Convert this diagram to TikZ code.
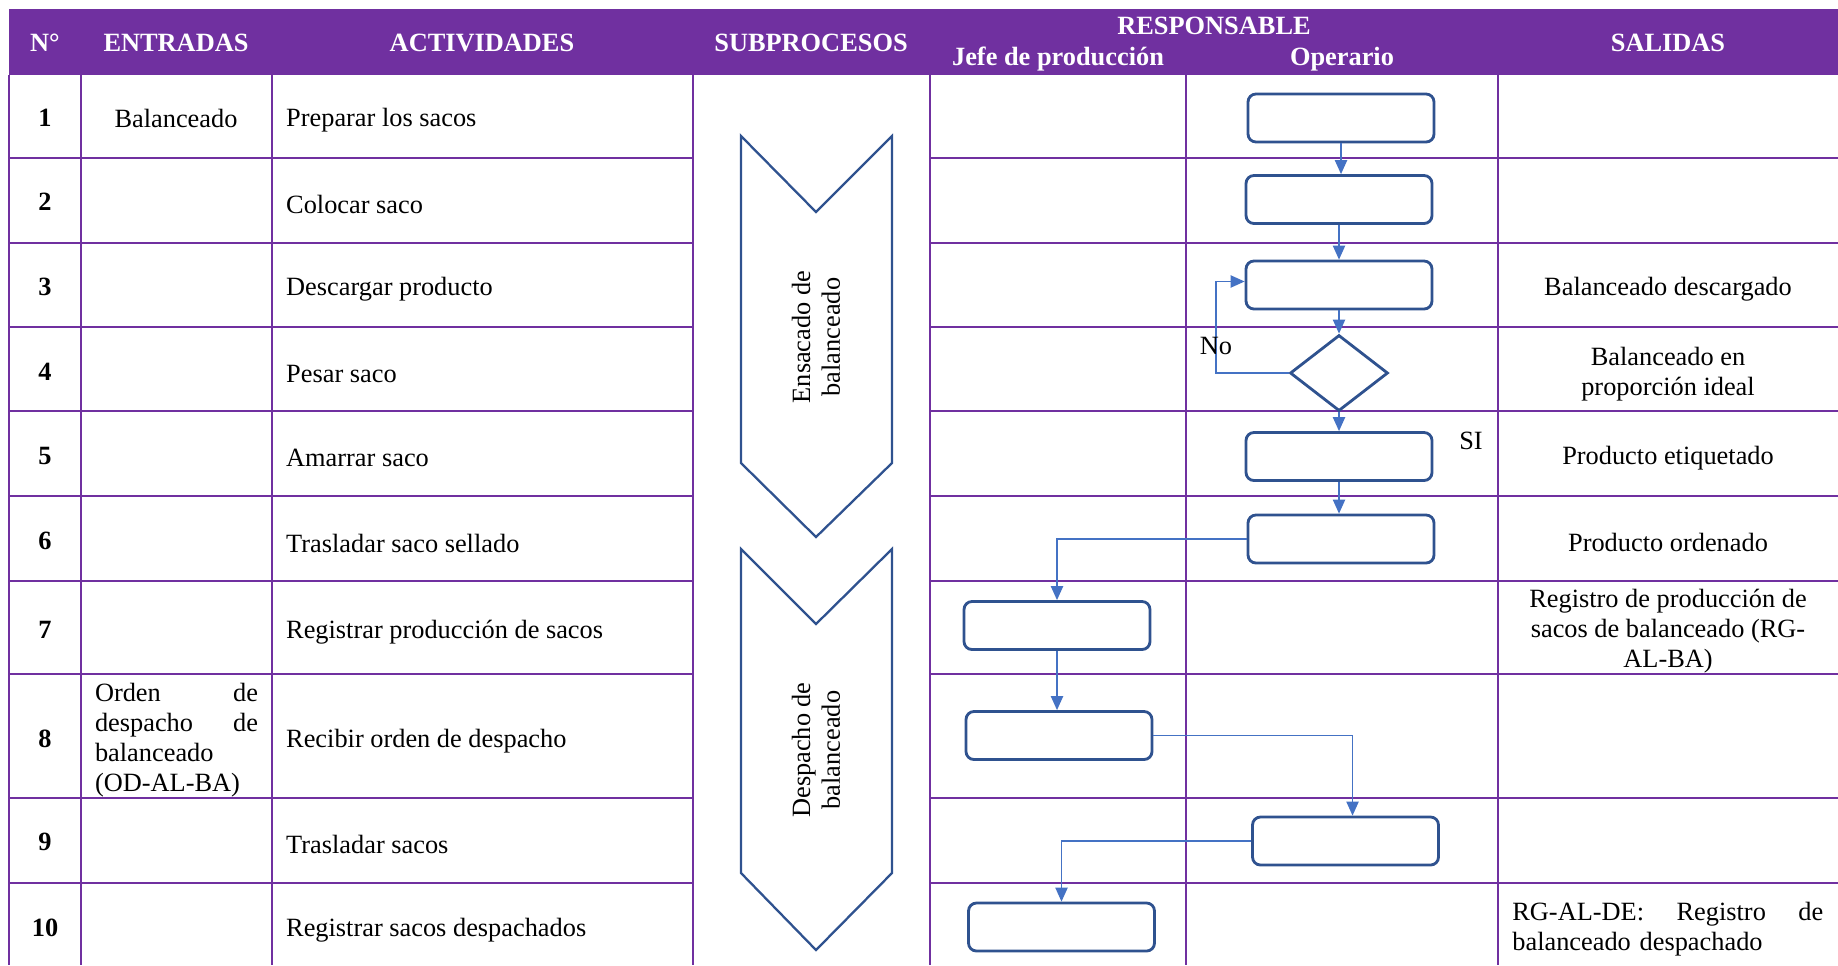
\documentclass[tikz,border=0pt]{standalone}
\usepackage{fontspec}
\setmainfont{Liberation Serif}
\usetikzlibrary{arrows.meta,shapes.geometric}

\definecolor{tblpurple}{HTML}{7030A0}
\definecolor{boxblue}{HTML}{2F528F}
\definecolor{flowblue}{HTML}{4472C4}

% stretch one line of text to a given width
\newcommand{\spreadline}[2]{\makebox[#1][s]{#2}}

\begin{document}
\begin{tikzpicture}[x=0.02cm, y=-0.02cm,
  font=\fontsize{15}{17}\selectfont,
  grid/.style={tblpurple, line width=1.4pt},
  head/.style={text=white, font=\fontsize{15}{17}\selectfont\bfseries},
  num/.style={font=\fontsize{15}{17}\selectfont\bfseries},
  actbox/.style={draw=boxblue, line width=1.6pt, rounded corners=4.5pt,
    minimum width=3.72cm, minimum height=0.96cm},
  decision/.style={draw=boxblue, line width=1.6pt, diamond, inner sep=0pt,
    minimum width=1.96cm, minimum height=1.52cm},
  flow/.style={flowblue, line width=0.8pt, -{Triangle[length=8pt,width=7pt]}},
  chevron/.style={draw=boxblue, line width=1.3pt, line join=miter}]

\useasboundingbox (0,0) rectangle (1838,965);

% Header
\fill[tblpurple] (9,9) rectangle (1838,75);
\node[head] (hnum) at (45,43) {N°};
\node[head] (hent) at (176,43) {ENTRADAS};
\node[head] (hact) at (482,43) {ACTIVIDADES};
\node[head] (hsub) at (811,43) {SUBPROCESOS};
\node[head] (hresp) at (1214,26) {RESPONSABLE};
\node[head] (hjefe) at (1058,59) {Jefe de producción};
\node[head] (hoper) at (1342,59) {Operario};
\node[head] (hsal) at (1668,43) {SALIDAS};

% Table lines
\foreach \y in {158,243,327,411,496,581,674,798,883} {
  \draw[grid] (9,\y) -- (693,\y);
  \draw[grid] (930,\y) -- (1838,\y);
}
\foreach \x in {9,81,272,693,930,1186,1498}
  \draw[grid] (\x,75) -- (\x,965);

% Numbers and activities
\foreach \n/\y/\act in {1/118/Preparar los sacos, 2/202/Colocar saco,
    3/287/Descargar producto, 4/372/Pesar saco, 5/456/Amarrar saco,
    6/541/Trasladar saco sellado, 7/630/Registrar producción de sacos,
    8/739/Recibir orden de despacho, 9/842/Trasladar sacos,
    10/928/Registrar sacos despachados} {
  \node[num] (n\n) at (45,\y) {\n};
  \node[anchor=west] (act\n) at (280,\y+2) {\act};
}

% Inputs
\node (in1) at (176,118) {Balanceado};
\node[text width=3.26cm, align=left, inner sep=0pt] (in8) at (176.5,740)
  {\spreadline{3.26cm}{Orden\hfill de}\\ \spreadline{3.26cm}{despacho\hfill de}\\ balanceado\\ (OD-AL-BA)};

% Outputs
\node (out3) at (1668,289) {Balanceado descargado};
\node[align=center] (out4) at (1668,374) {Balanceado en\\ proporción ideal};
\node (out5) at (1668,458) {Producto etiquetado};
\node (out6) at (1668,542) {Producto ordenado};
\node[align=center] (out7) at (1668,631) {Registro de producción de\\ sacos de balanceado (RG-\\ AL-BA)};
\node[anchor=west, text width=6.22cm, align=left, inner sep=0pt] (out10) at (1512,929)
  {\spreadline{6.22cm}{RG-AL-DE:\hfill Registro\hfill de}\\ balanceado despachado};

% Subprocesses
\draw[chevron] (741,136) -- (816,212) -- (892,136) -- (892,463) -- (816,537) -- (741,463) -- cycle;
\draw[chevron] (741,549) -- (816,624) -- (892,549) -- (892,873) -- (816,950) -- (741,873) -- cycle;
\node[rotate=90, align=center] (sub1) at (816,337) {Ensacado de\\ balanceado};
\node[rotate=90, align=center] (sub2) at (816,750) {Despacho de\\ balanceado};

% Flow boxes
\node[actbox] (b1) at (1341,118) {};
\node[actbox] (b2) at (1339,199.5) {};
\node[actbox] (b3) at (1339,285) {};
\node[decision] (d4) at (1339,373) {};
\node[actbox] (b5) at (1339,456.5) {};
\node[actbox] (b6) at (1341,539) {};
\node[actbox] (b7) at (1057,625.5) {};
\node[actbox] (b8) at (1059,735.5) {};
\node[actbox] (b9) at (1345.5,841) {};
\node[actbox] (b10) at (1061.5,927) {};

% Connectors
\coordinate (loop) at (1216,373);
\draw[flow] (b1.south) -- (b1.south |- b2.north);
\draw[flow] (b2.south) -- (b2.south |- b3.north);
\draw[flow] (b3.south) -- (d4.north);
\draw[flow] (d4.west) -- (loop) |- ([yshift=2pt]b3.west);
\draw[flow] (d4.south) -- (d4.south |- b5.north);
\draw[flow] (b5.south) -- (b5.south |- b6.north);
\draw[flow] (b6.west) -| (b7.north);
\draw[flow] (b7.south) -- (b7.south |- b8.north);
\draw[flow] (b8.east) -| ([xshift=4pt]b9.north);
\draw[flow] (b9.west) -| (b10.north);

\node (no) at (1216,346) {No};
\node (si) at (1471,441) {SI};

\end{tikzpicture}
\end{document}
